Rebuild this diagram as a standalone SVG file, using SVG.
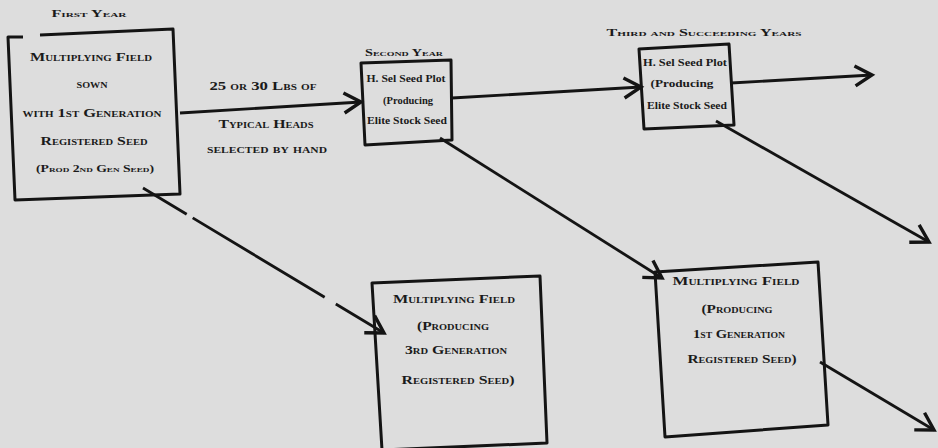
<svg xmlns="http://www.w3.org/2000/svg" width="938" height="448" viewBox="0 0 938 448">
<defs>
<marker id="ah" markerUnits="userSpaceOnUse" markerWidth="30" markerHeight="30" refX="20" refY="12" orient="auto" overflow="visible">
<path d="M3,2 L20,12 L3,22" fill="none" stroke="#141414" stroke-width="3.4" stroke-linejoin="miter"/>
</marker>
<style>
.bg{fill:#dddddd}
.box{fill:none;stroke:#141414;stroke-width:3;stroke-linejoin:round}
.ln{fill:none;stroke:#141414;stroke-width:2.8;marker-end:url(#ah)}
.t{font-family:"Liberation Serif","DejaVu Serif",serif;font-weight:bold;font-variant:small-caps;fill:#1a1a1a;text-anchor:middle;font-size:12px}
.s{font-family:"Liberation Serif","DejaVu Serif",serif;font-weight:bold;fill:#1a1a1a;text-anchor:middle;font-size:10.5px}
</style>
</defs>
<rect class="bg" x="0" y="0" width="938" height="448"/>

<g id="connectors">
<path class="ln" d="M180,113 L361,102"/>
<path class="ln" d="M452,98 L641,87"/>
<path class="ln" d="M731,83 L872,75"/>
<path class="ln" d="M716,121 L929,242"/>
<path class="ln" d="M440,138 L662,278"/>
<path class="ln" d="M820,362 L934,430"/>
<path class="ln" d="M143,188 L384,333" stroke-dasharray="51,7,154,13,400"/>
</g>

<g id="n1">
<text class="t" x="89" y="17" style="font-size:10px" textLength="75" lengthAdjust="spacingAndGlyphs">First Year</text>
<path class="box" d="M23,37 L8,37 L15,200 L180,194 L173,29 L40,35"/>
<text class="t" x="91" y="61" textLength="122" lengthAdjust="spacingAndGlyphs">Multiplying Field</text>
<text class="t" x="92" y="88" textLength="31" lengthAdjust="spacingAndGlyphs">sown</text>
<text class="t" x="92" y="117" textLength="139" lengthAdjust="spacingAndGlyphs">with 1st Generation</text>
<text class="t" x="94" y="145" textLength="107" lengthAdjust="spacingAndGlyphs">Registered Seed</text>
<text class="t" x="95" y="172" style="font-size:10.5px" textLength="118" lengthAdjust="spacingAndGlyphs">(Prod 2nd Gen Seed)</text>
</g>

<g id="lbl">
<text class="t" x="263" y="90" textLength="107" lengthAdjust="spacingAndGlyphs">25 or 30 Lbs of</text>
<text class="t" x="266" y="128" textLength="95" lengthAdjust="spacingAndGlyphs">Typical Heads</text>
<text class="t" x="267" y="153" textLength="120" lengthAdjust="spacingAndGlyphs">selected by hand</text>
</g>

<g id="n2">
<text class="t" x="404" y="56" style="font-size:10px" textLength="78" lengthAdjust="spacingAndGlyphs">Second Year</text>
<path class="box" d="M361,63 L451,60 L452,140 L365,145 Z"/>
<text class="s" x="406" y="82" textLength="79" lengthAdjust="spacingAndGlyphs">H. Sel Seed Plot</text>
<text class="s" x="408" y="104" textLength="50" lengthAdjust="spacingAndGlyphs">(Producing</text>
<text class="s" x="407" y="124" textLength="80" lengthAdjust="spacingAndGlyphs">Elite Stock Seed</text>
</g>

<g id="n3">
<text class="t" x="704" y="36" style="font-size:10px" textLength="195" lengthAdjust="spacingAndGlyphs">Third and  Succeeding Years</text>
<path class="box" d="M639,49 L729,44 L734,125 L644,129 Z"/>
<text class="s" x="685" y="66" textLength="84" lengthAdjust="spacingAndGlyphs">H. Sel Seed Plot</text>
<text class="s" x="682" y="87" textLength="63" lengthAdjust="spacingAndGlyphs">(Producing</text>
<text class="s" x="687" y="109" textLength="80" lengthAdjust="spacingAndGlyphs">Elite Stock Seed</text>
</g>

<g id="n4">
<path class="box" d="M372,283 L540,276 L547,443 L382,450 Z"/>
<text class="t" x="454" y="303" textLength="122" lengthAdjust="spacingAndGlyphs">Multiplying Field</text>
<text class="t" x="453" y="330" textLength="72" lengthAdjust="spacingAndGlyphs">(Producing</text>
<text class="t" x="456" y="354" textLength="102" lengthAdjust="spacingAndGlyphs">3rd Generation</text>
<text class="t" x="458" y="384" textLength="113" lengthAdjust="spacingAndGlyphs">Registered Seed)</text>
</g>

<g id="n5">
<path class="box" d="M655,272 L818,262 L828,425 L665,437 Z"/>
<text class="t" x="736" y="285" textLength="127" lengthAdjust="spacingAndGlyphs">Multiplying  Field</text>
<text class="t" x="737" y="313" textLength="71" lengthAdjust="spacingAndGlyphs">(Producing</text>
<text class="t" x="739" y="338" textLength="92" lengthAdjust="spacingAndGlyphs">1st Generation</text>
<text class="t" x="742" y="363" textLength="109" lengthAdjust="spacingAndGlyphs">Registered Seed)</text>
</g>
</svg>
